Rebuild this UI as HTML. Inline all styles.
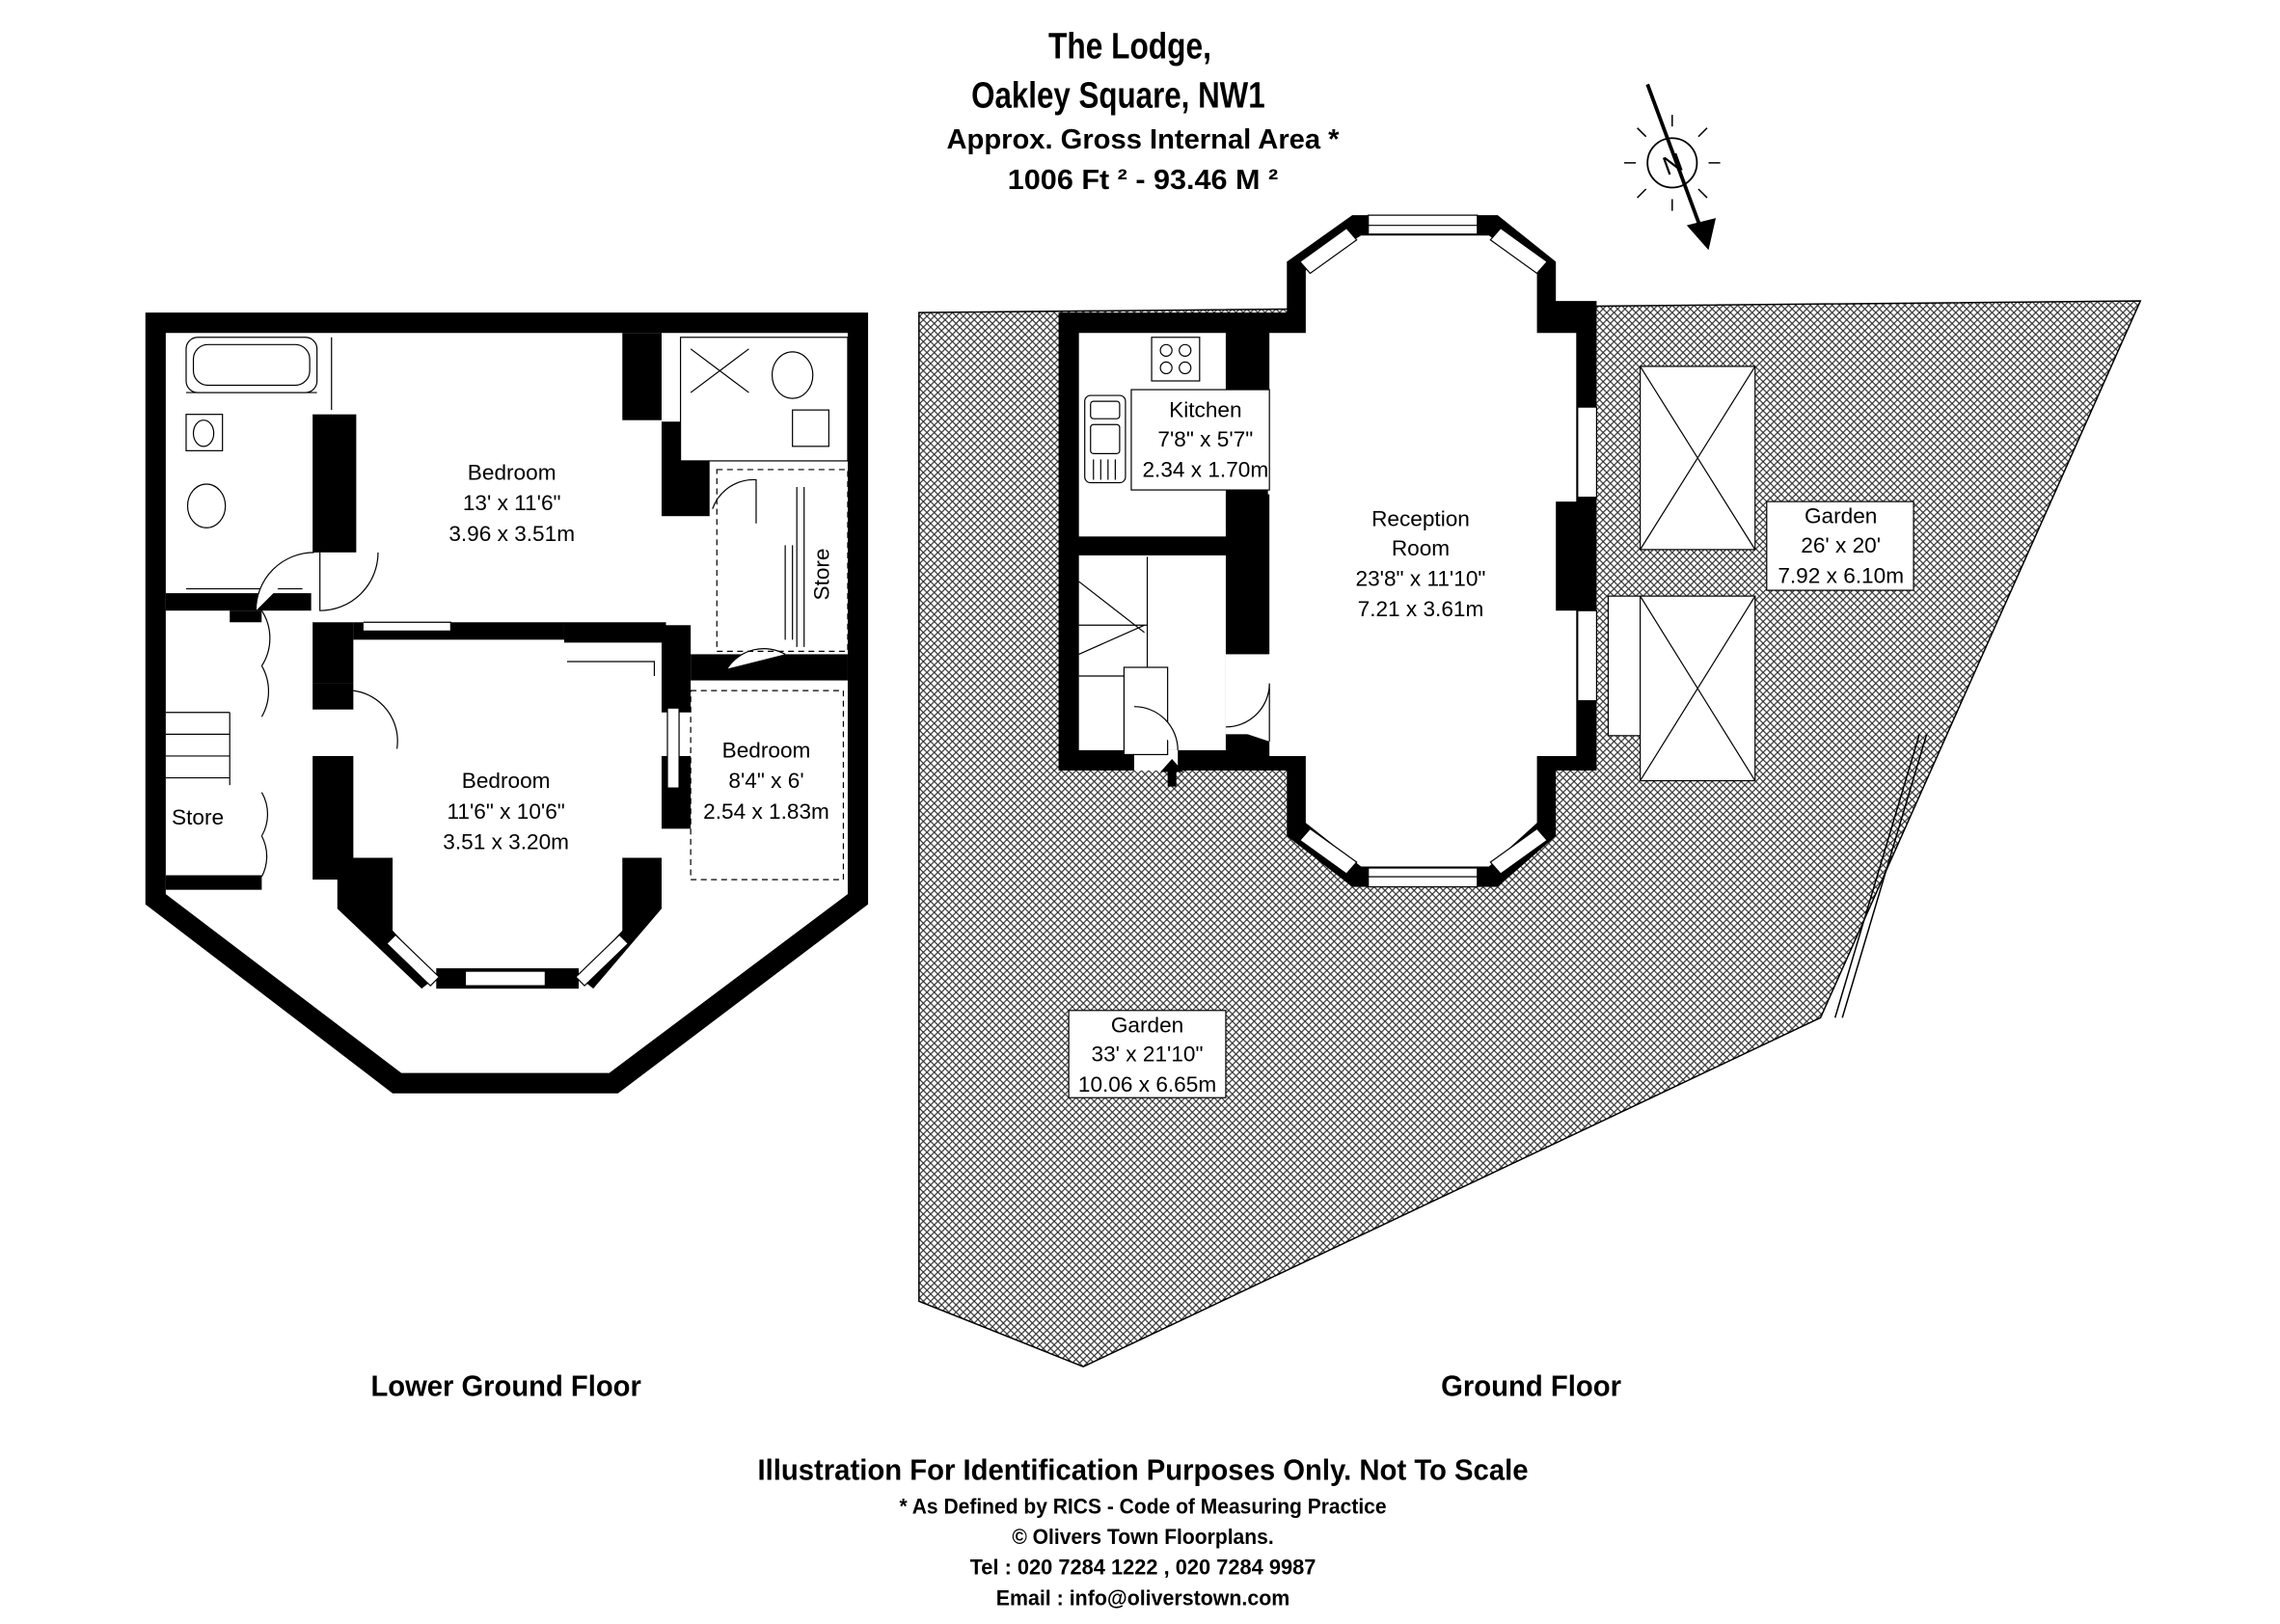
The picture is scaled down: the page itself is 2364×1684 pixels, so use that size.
<!DOCTYPE html>
<html><head><meta charset="utf-8"><style>
html,body{margin:0;padding:0;background:#fff}
svg{display:block}
text{font-family:"Liberation Sans",Arial,sans-serif}
</style></head><body>
<svg width="2364" height="1684" viewBox="0 0 1568 1117" preserveAspectRatio="none" xmlns="http://www.w3.org/2000/svg">
<defs>
<pattern id="h" width="5" height="5" patternUnits="userSpaceOnUse">
<rect width="5" height="5" fill="#fff"/>
<path d="M0 0L5 5M5 0L0 5" stroke="#333" stroke-width="0.8"/>
</pattern>
</defs>

<g font-weight="bold" text-anchor="middle" fill="#000">
<text x="777" y="40" font-size="25" textLength="112" lengthAdjust="spacingAndGlyphs">The Lodge,</text>
<text x="769" y="74" font-size="25" textLength="202" lengthAdjust="spacingAndGlyphs">Oakley Square, NW1</text>
<text x="786" y="102" font-size="19" textLength="270" lengthAdjust="spacingAndGlyphs">Approx. Gross Internal Area *</text>
<text x="786" y="130" font-size="19" textLength="186" lengthAdjust="spacingAndGlyphs">1006 Ft ²  -  93.46 M ²</text>
</g>

<g stroke="#000" fill="none">
<circle cx="1150" cy="112" r="17" stroke-width="1.2"/>
<g stroke-width="1">
<path d="M1150 87v-8M1150 137v8M1125 112h-8M1175 112h8M1132 94l-6-6M1168 94l6-6M1132 130l-6 6M1168 130l6 6"/>
</g>
<line x1="1133" y1="58" x2="1170" y2="158" stroke-width="2.5"/>
</g>
<path d="M1160 155L1180 150L1175 172z" fill="#000"/>
<text x="1150" y="119" font-size="18" text-anchor="middle" transform="rotate(-20 1150 112)" font-family="Liberation Serif">N</text>

<polygon points="632,215 1472,207 1252,700 745,940 632,895" fill="url(#h)" stroke="#000" stroke-width="1"/>
<path d="M1320 505L1262 700" stroke="#000" stroke-width="1"/>
<path d="M1325 505L1267 700" stroke="#000" stroke-width="1"/>
<polygon points="728,215 885,215 885,180 930,148 1030,148 1070,180 1070,207 1098,207 1098,530 1070,530 1070,575 1030,610 930,610 885,575 885,530 728,530" fill="#000"/>
<polygon points="872,229 898,229 898,186 936,162 1024,162 1057,186 1057,229 1084,229 1084,520 1057,520 1057,566 1024,596 936,596 898,566 898,520 872,520" fill="#fff"/>
<rect x="742" y="229" width="101" height="140" fill="#fff"/>
<rect x="843" y="229" width="30" height="40" fill="#000"/>
<rect x="843" y="340" width="30" height="110" fill="#000"/>
<rect x="742" y="382" width="101" height="134" fill="#fff"/>
<rect x="843" y="450" width="30" height="60" fill="#fff"/>
<rect x="843" y="505" width="30" height="25" fill="#000"/>
<rect x="780" y="516" width="30" height="14" fill="#fff"/>
<g fill="#fff" stroke="#000" stroke-width="0.8">
<rect x="941" y="148" width="75" height="13"/>
<line x1="941" y1="155" x2="1016" y2="155"/>
<rect x="941" y="597" width="75" height="13"/>
<line x1="941" y1="603" x2="1016" y2="603"/>
<rect x="1085" y="280" width="13" height="62"/>
<rect x="1085" y="420" width="13" height="62"/>
<polygon points="894,180 926,157 933,165 901,188"/>
<polygon points="1064,180 1032,157 1025,165 1057,188"/>
<polygon points="894,578 926,601 933,593 901,570"/>
<polygon points="1064,578 1032,601 1025,593 1057,570"/>
</g>
<rect x="1070" y="345" width="15" height="75" fill="#000"/>
<g fill="#fff" stroke="#000" stroke-width="0.8">
<rect x="792" y="232" width="33" height="30"/>
<circle cx="802" cy="241" r="4"/><circle cx="815" cy="241" r="4"/><circle cx="802" cy="253" r="4"/><circle cx="815" cy="253" r="4"/>
<rect x="746" y="272" width="28" height="60" rx="4"/>
<rect x="750" y="276" width="20" height="12" rx="2"/>
<rect x="750" y="292" width="20" height="20" rx="2"/>
<path d="M752 316v14M757 316v14M762 316v14M767 316v14"/>
<rect x="778" y="268" width="95" height="69"/>
<path d="M742 430h47M742 465h45M742 400l45 35M742 450l45-20M789 383v80"/>
<rect x="773" y="459" width="30" height="60"/>
<path d="M810 516a30 30 0 0 0-30-30M843 500a30 30 0 0 0 30-30v40"/>
</g>
<path d="M803 541v-10h-5l8-9 8 9h-5v10z" fill="#000"/>
<g font-size="15" text-anchor="middle" fill="#000">
<text x="829" y="287">Kitchen</text>
<text x="829" y="307">7'8" x 5'7"</text>
<text x="829" y="328">2.34 x 1.70m</text>
<text x="977" y="362">Reception</text>
<text x="977" y="382">Room</text>
<text x="977" y="403">23'8" x 11'10"</text>
<text x="977" y="424">7.21 x 3.61m</text>
</g>
<g fill="#fff" stroke="#000" stroke-width="0.8">
<rect x="1128" y="252" width="79" height="126"/>
<path d="M1128 252L1207 378M1207 252L1128 378"/>
<rect x="1106" y="410" width="101" height="96"/>
<rect x="1128" y="410" width="79" height="127"/>
<path d="M1128 410L1207 537M1207 410L1128 537"/>
<rect x="1215" y="345" width="101" height="61"/>
<rect x="735" y="695" width="108" height="60"/>
</g>
<g font-size="15" text-anchor="middle" fill="#000">
<text x="1266" y="360">Garden</text>
<text x="1266" y="380">26' x 20'</text>
<text x="1266" y="401">7.92 x 6.10m</text>
<text x="789" y="710">Garden</text>
<text x="789" y="730">33' x 21'10"</text>
<text x="789" y="751">10.06 x 6.65m</text>
</g>

<polygon points="100,215 597,215 597,622 425,752 270,752 100,622" fill="#000"/>
<polygon points="114,229 583,229 583,615 419,738 276,738 114,615" fill="#fff"/>
<g fill="#000">
<rect x="215" y="285" width="30" height="95"/>
<rect x="428" y="229" width="27" height="60"/>
<rect x="455" y="290" width="33" height="65"/>
<rect x="114" y="408" width="100" height="12"/>
<rect x="215" y="428" width="28" height="42"/>
<rect x="243" y="428" width="145" height="12"/>
<rect x="388" y="428" width="70" height="14"/>
<rect x="455" y="430" width="20" height="60"/>
<rect x="475" y="450" width="108" height="18"/>
<rect x="215" y="470" width="28" height="18"/>
<rect x="215" y="520" width="28" height="85"/>
<rect x="158" y="420" width="22" height="8"/>
<rect x="114" y="602" width="66" height="10"/>
<polygon points="232,590 270,590 270,640 300,672 290,680 232,625"/>
<polygon points="455,590 428,590 428,640 398,672 408,680 455,625"/>
<rect x="300" y="666" width="98" height="14"/>
<rect x="455" y="520" width="20" height="50"/>
</g>
<g fill="#fff" stroke="#000" stroke-width="0.8">
<rect x="320" y="668" width="55" height="10"/>
<polygon points="272,643 302,672 296,678 266,649"/>
<polygon points="426,643 396,672 402,678 432,649"/>
<rect x="128" y="232" width="90" height="38" rx="8"/>
<rect x="133" y="237" width="80" height="28" rx="10"/>
<rect x="128" y="285" width="25" height="25"/>
<ellipse cx="140" cy="298" rx="7" ry="9"/>
<ellipse cx="142" cy="348" rx="13" ry="15"/>
<path d="M228 232v50M128 270h90M128 405h80"/>
<rect x="468" y="232" width="115" height="85"/>
<path d="M475 240l40 30M515 240l-40 30"/>
<ellipse cx="545" cy="258" rx="14" ry="16"/>
<rect x="545" y="282" width="25" height="25"/>
<path d="M216 380a40 40 0 0 0-40 40M260 380a40 40 0 0 1-40 40v-40"/>
<path d="M180 420a35 35 0 0 1 0 38M180 458a35 35 0 0 1 0 35M180 545a30 30 0 0 1 0 30M180 575a30 30 0 0 1 0 28"/>
<path d="M243 475a35 35 0 0 1 30 40"/>
<path d="M490 350a30 30 0 0 1 30-20v30"/>
<path d="M500 460a30 30 0 0 1 40 -10"/>
<path d="M114 490h44M114 505h44M114 520h44M114 535h44M158 490v50"/>
<path d="M250 428h60v6h-60M310 430h60M390 455h60v10"/>
<rect x="459" y="487" width="8" height="55"/>
</g>
<g fill="none" stroke="#000" stroke-width="0.8" stroke-dasharray="4 3">
<rect x="493" y="323" width="90" height="125"/>
<rect x="475" y="475" width="105" height="130"/>
</g>
<g fill="none" stroke="#000" stroke-width="0.8">
<path d="M548 335v110M553 335v110M540 375v65M545 375v65"/>
</g>
<g font-size="15" text-anchor="middle" fill="#000">
<text x="352" y="330">Bedroom</text>
<text x="352" y="351">13' x 11'6"</text>
<text x="352" y="372">3.96 x 3.51m</text>
<text x="348" y="542">Bedroom</text>
<text x="348" y="563">11'6" x 10'6"</text>
<text x="348" y="584">3.51 x 3.20m</text>
<text x="527" y="521">Bedroom</text>
<text x="527" y="542">8'4" x 6'</text>
<text x="527" y="563">2.54 x 1.83m</text>
<text x="136" y="567">Store</text>
<text x="570" y="395" transform="rotate(-90 570 395)">Store</text>
</g>

<g font-weight="bold" text-anchor="middle" fill="#000">
<text x="348" y="960" font-size="20" textLength="186" lengthAdjust="spacingAndGlyphs">Lower Ground Floor</text>
<text x="1053" y="960" font-size="20" textLength="124" lengthAdjust="spacingAndGlyphs">Ground Floor</text>
<text x="786" y="1018" font-size="20" textLength="530" lengthAdjust="spacingAndGlyphs">Illustration For Identification Purposes Only. Not To Scale</text>
<text x="786" y="1041" font-size="15" textLength="335" lengthAdjust="spacingAndGlyphs">* As Defined by RICS - Code of Measuring Practice</text>
<text x="786" y="1062" font-size="15" textLength="180" lengthAdjust="spacingAndGlyphs">© Olivers Town Floorplans.</text>
<text x="786" y="1083" font-size="15" textLength="238" lengthAdjust="spacingAndGlyphs">Tel : 020 7284 1222 , 020 7284 9987</text>
<text x="786" y="1104" font-size="15" textLength="202" lengthAdjust="spacingAndGlyphs">Email : info@oliverstown.com</text>
</g>
</svg>
</body></html>
